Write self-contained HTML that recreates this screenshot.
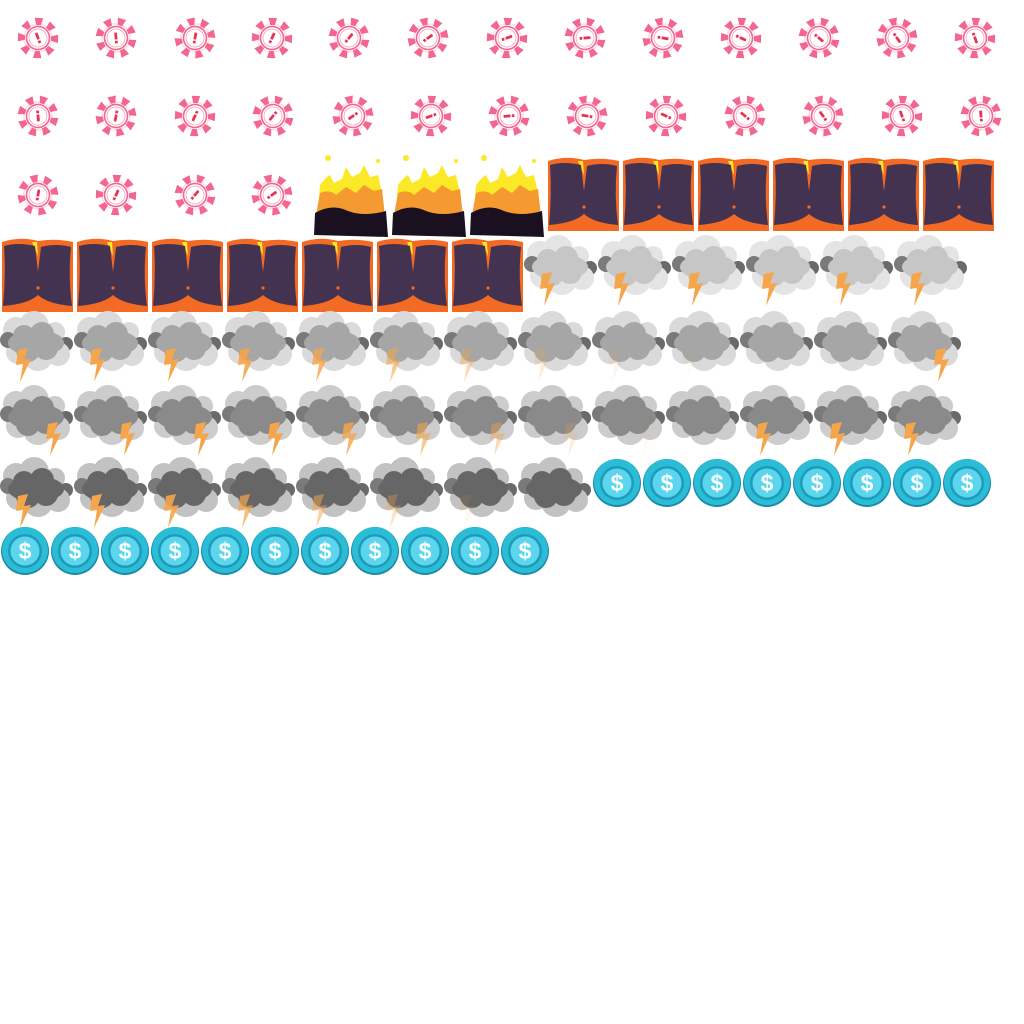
<!DOCTYPE html>
<html><head><meta charset="utf-8"><style>
html,body{margin:0;padding:0;background:#fff;width:1024px;height:1024px;overflow:hidden}
</style></head><body>
<svg id="sheet" width="1024" height="1024" viewBox="0 0 1024 1024" xmlns="http://www.w3.org/2000/svg">
<defs>
<symbol id="fire" viewBox="0 0 78 82" overflow="visible">
<path d="M6 55 L8 30 Q14 22 18 20 L22 28 L30 24 L34 12 L40 22 L48 18 L52 10 L58 22 L66 20 L70 38 L72 70 L6 70Z" fill="#fbe927"/>
<path d="M4 60 L8 38 Q18 34 24 40 L34 32 L44 38 L52 30 L62 36 L70 34 L74 70 L4 70Z" fill="#f59a30"/>
<path d="M2 80 L3 58 Q20 48 36 56 Q52 62 74 56 L76 82Z" fill="#1a1020"/>
<circle cx="16" cy="3" r="3" fill="#fbe927"/><circle cx="66" cy="6" r="2" fill="#fbe927"/>
</symbol>
<symbol id="rock" viewBox="0 0 75 77" overflow="visible">
<path d="M2 6 Q20 0 38 5 Q56 2 73 6 L73 76 L2 76Z" fill="#f26a24"/>
<path d="M32 6 L37 6 L38 20Z" fill="#fbe927"/>
<path d="M4 10 Q18 6 35 10 L38 36 L41 11 Q56 7 71 11 Q68 40 72 70 Q48 68 38 59 Q28 68 3 70 Q6 40 4 10Z" fill="#433351"/>
<circle cx="38" cy="52" r="1.6" fill="#f26a24"/>
</symbol>
<symbol id="coin" viewBox="-25 -25 50 50" overflow="visible">
<circle r="24" fill="#1a8aa8"/>
<circle r="23" cy="-1" fill="#2bbcd6"/>
<circle r="17" fill="#1e9bbb"/>
<circle r="14.5" fill="#5cd6ee"/>
<text x="0" y="8" text-anchor="middle" font-family="Liberation Sans, sans-serif" font-weight="bold" font-size="23" fill="#fff">$</text>
</symbol>
</defs>
<g id="layer"></g>
</svg>
<script>
const NS='http://www.w3.org/2000/svg';
const layer=document.getElementById('layer');
function mk(tag,attrs,parent){const e=document.createElementNS(NS,tag);for(const k in attrs)e.setAttribute(k,attrs[k]);(parent||layer).appendChild(e);return e;}
function use(id,x,y,w,h){return mk('use',{href:'#'+id,x:x,y:y,width:w,height:h});}

const chipRow1=[38,116,195,272,349,428,507,585,663,741,819,897,975];
const chipRow2=[38,116,195,273,353,431,509,587,666,745,823,902,981];
const chipRow3=[38,116,195,272];
let chipIdx=0;
function pt(r,a){a=a*Math.PI/180;return (r*Math.sin(a)).toFixed(2)+' '+(-r*Math.cos(a)).toFixed(2);}
function chip(cx,cy){
  const ang=-20+chipIdx*15;
  const g=mk('g',{transform:`translate(${cx},${cy}) rotate(${ang})`});
  
  
  mk('circle',{r:15,fill:'#fde3ea'},g);
  let d='';
  for(let k=0;k<8;k++){const c=22.5+45*k;
    d+=`M${pt(12,c-9)} L${pt(20.5,c-12)} L${pt(20.5,c+12)} L${pt(12,c+9)}Z `;}
  mk('path',{d:d,fill:'#f2668f'},g);
  mk('circle',{r:13,fill:'#fff'},g);
  mk('circle',{r:11.5,fill:'#fff',stroke:'#f2668f','stroke-width':1.6},g);
  mk('circle',{r:9,fill:'#fff',stroke:'#f6a0b8','stroke-width':0.8},g);
  mk('rect',{x:-1.4,y:-5.5,width:2.8,height:7,fill:'#e8344f',rx:0.8},g);
  mk('rect',{x:-1.4,y:2.8,width:2.8,height:2.6,fill:'#e8344f'},g);
  chipIdx++;
}
chipRow1.forEach(x=>chip(x,38));
chipRow2.forEach(x=>chip(x,116));
chipRow3.forEach(x=>chip(x,195));

[312,390,468].forEach((x,i)=>{const u=use('fire',x,155,78,82);

});

const rockRow3=[546,621,696,771,846,921];
const rockRow4=[0,75,150,225,300,375,450];
rockRow3.forEach(x=>{const u=use('rock',x,155,75,77);

});
rockRow4.forEach(x=>{const u=use('rock',x,236,75,77);

});

function cloud(x,y,base,light,bolt,side){
  const g=mk('g',{transform:`translate(${x},${y})`});
  
  
  mk('circle',{cx:16,cy:18,r:13,fill:light},g);
  mk('circle',{cx:34,cy:14,r:15,fill:light},g);
  mk('circle',{cx:55,cy:20,r:10,fill:light},g);
  mk('circle',{cx:66,cy:32,r:7,fill:'#6a6a6a'},g);
  mk('circle',{cx:58,cy:42,r:12,fill:light},g);
  mk('circle',{cx:38,cy:44,r:15,fill:light},g);
  mk('circle',{cx:18,cy:40,r:12,fill:light},g);
  mk('circle',{cx:8,cy:28,r:8,fill:'#7a7a7a'},g);
  mk('ellipse',{cx:36,cy:31,rx:28,ry:13,fill:base},g);
  mk('circle',{cx:28,cy:38,r:12,fill:base},g);
  mk('circle',{cx:46,cy:36,r:12,fill:base},g);
  mk('circle',{cx:24,cy:24,r:11,fill:base},g);
  mk('circle',{cx:42,cy:22,r:12,fill:base},g);
  if(bolt>0){const bx=side==='r'?30:0;
    mk('path',{d:`M${18+bx} 38 L${28+bx} 36 L${24+bx} 48 L${31+bx} 47 L${20+bx} 70 L${23+bx} 52 L${16+bx} 53Z`,fill:'#f5a54a',opacity:bolt},g);}
}
const cloudRow4=[524,598,672,746,820,894];
const cloudRowX=[0,74,148,222,296,370,444,518,592,666,740,814,888];
const cloudRow7=[0,74,148,222,296,370,444,518];
cloudRow4.forEach(x=>cloud(x,236,'#c6c6c6','#e4e4e4',1,'l'));
cloudRowX.forEach((x,i)=>cloud(x,312,'#a6a6a6','#dadada',[1,1,1,0.9,0.8,0.6,0.4,0.2,0.1,0.05,0,0,1][i],i===12?'r':'l'));
cloudRowX.forEach((x,i)=>cloud(x,386,'#8a8a8a','#cccccc',[1,1,1,1,0.8,0.6,0.4,0.2,0.05,0,1,1,1][i],i<10?'r':'l'));
cloudRow7.forEach((x,i)=>cloud(x,458,'#666666','#c2c2c2',[1,1,0.9,0.7,0.5,0.3,0.1,0][i],'l'));

const coinRow7=[617,667,717,767,817,867,917,967];
const coinRow8=[25,75,125,175,225,275,325,375,425,475,525];
coinRow7.forEach(x=>{const u=use('coin',x-25,458,50,50);

});
coinRow8.forEach(x=>{const u=use('coin',x-25,526,50,50);

});
</script>
</body></html>
